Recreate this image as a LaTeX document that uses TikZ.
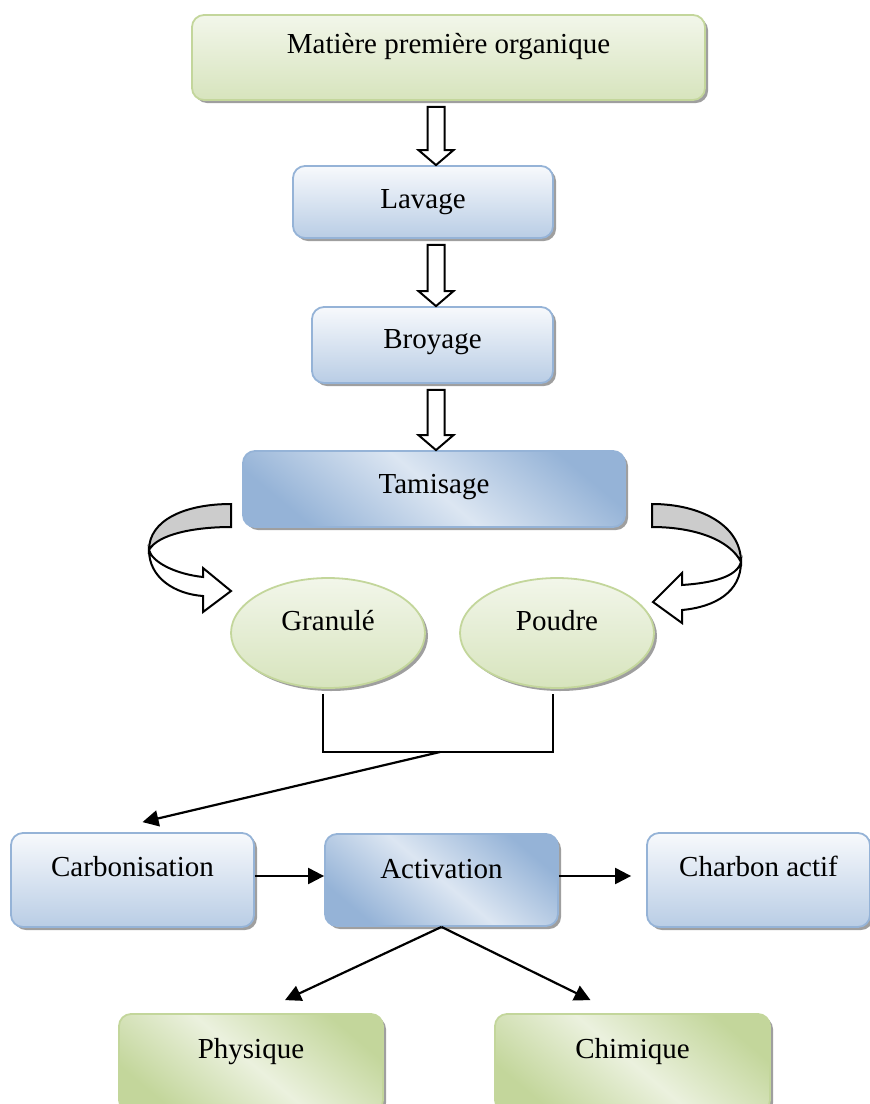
\documentclass[tikz,border=0pt]{standalone}
\usepackage{fontspec}
\setmainfont{Liberation Serif}
\usetikzlibrary{shapes, arrows.meta, calc, shadows}

\definecolor{blueline}{HTML}{95B3D7}
\definecolor{bluelight}{HTML}{F7F9FC}
\definecolor{bluemid}{HTML}{DCE6F2}
\definecolor{bluedark}{HTML}{B9CDE5}
\definecolor{greenline}{HTML}{C3D69B}
\definecolor{greenlight}{HTML}{F2F6EA}
\definecolor{greenmid}{HTML}{EBF1DE}
\definecolor{greendark}{HTML}{D7E4BD}

\tikzset{
  stage/.style={rounded corners=6pt, draw=blueline, line width=0.9pt, inner sep=0pt,
    top color=bluelight, bottom color=bluedark,
    drop shadow={shadow xshift=1.5pt, shadow yshift=-1.5pt, fill=gray!75, opacity=1}},
  stagedark/.style={stage, top color=blueline, bottom color=blueline, middle color=bluemid, shading angle=-40},
  product/.style={stage, draw=greenline, top color=greenlight, bottom color=greendark},
  productdark/.style={stage, draw=greenline, top color=greenline, bottom color=greenline, middle color=greenmid, shading angle=-40},
  grain/.style={ellipse, product, minimum width=97pt, minimum height=55pt, text height=12pt, text depth=15pt},
  hollow/.style={draw=black, fill=white, line width=1pt, line join=miter},
  flow/.style={line width=1.1pt, -{Triangle[length=8pt,width=8pt]}},
}

% hollow block arrow from the bottom of #1 to the top of #2
\newcommand{\hollowarrow}[2]{%
  \draw[hollow] let \p1=(#1.south -| axis), \p2=(#2.north -| axis) in
    (\x1-4.25pt,\y1-3pt) -- (\x1-4.25pt,\y2+7.5pt) -- (\x1-8.75pt,\y2+7.5pt) -- (\x2,\y2)
    -- (\x1+8.75pt,\y2+7.5pt) -- (\x1+4.25pt,\y2+7.5pt) -- (\x1+4.25pt,\y1-3pt) -- cycle;}

\begin{document}
\begin{tikzpicture}[x=0.5pt, y=-0.5pt, font=\fontsize{14.5}{17}\selectfont]

            \useasboundingbox (0,0) rectangle (870,1104);
            \coordinate (axis) at (436,0);

            % Preparation
            \node[product, minimum width=256.5pt, text height=19pt, text depth=23.5pt] (matiere) at (448.5,57.5) {Matière première organique};
            \node[stage, minimum width=130pt, text height=21pt, text depth=15pt] (lavage) at (423,202) {Lavage};
            \node[stage, minimum width=120.5pt, text height=20.5pt, text depth=17.5pt] (broyage) at (432.5,345) {Broyage};
            \node[stagedark, minimum width=191pt, text height=21pt, text depth=17pt] (tamisage) at (434,489) {Tamisage};

            \hollowarrow{matiere}{lavage}
            \hollowarrow{lavage}{broyage}
            \hollowarrow{broyage}{tamisage}

            % Granulometry
            \node[grain] (granule) at (328,633) {Granulé};
            \node[grain] (poudre) at (557,633) {Poudre};

            % Curved arrows
            \filldraw[hollow, fill=gray!40] (231,504) .. controls (185,504) and (149,520) .. (149,550)
              .. controls (158,534) and (195,527) .. (231,527) -- cycle;
            \draw[hollow] (149,550) .. controls (149,578) and (175,594) .. (203,596) -- (203,612) -- (231,591)
              -- (203,568) -- (203,577) .. controls (175,574) and (152,562) .. (149,550) -- cycle;
            \filldraw[hollow, fill=gray!40] (652,504) .. controls (700,504) and (741,525) .. (741,562)
              .. controls (730,540) and (695,527) .. (652,527) -- cycle;
            \draw[hollow] (741,562) .. controls (741,592) and (715,607) .. (682,610) -- (682,623) -- (653,602)
              -- (682,573) -- (682,585) .. controls (712,583) and (737,577) .. (741,562) -- cycle;

            % Thermal treatment
            \node[stage, minimum width=121.5pt, text height=21.5pt, text depth=25.5pt] (carbon) at (132.5,880) {Carbonisation};
            \node[stagedark, minimum width=116.5pt, text height=22pt, text depth=24pt] (activation) at (441.5,880) {Activation};
            \node[stage, minimum width=111.5pt, text height=21.5pt, text depth=25.5pt] (charbon) at (758.5,880) {Charbon actif};
            \node[productdark, minimum width=132pt, text height=22pt, text depth=27pt] (physique) at (251,1063) {Physique};
            \node[productdark, minimum width=137.5pt, text height=22pt, text depth=27pt] (chimique) at (632.5,1063) {Chimique};

            \coordinate (join) at (440,752);
            \draw[line width=1.1pt] ([xshift=-2.5pt,yshift=-2.5pt]granule.south) |- (join) -| ([xshift=-2pt,yshift=-2.5pt]poudre.south);
            \draw[flow] (join) -- ([xshift=5pt,yshift=5pt]carbon.north);
            \draw[flow] ([yshift=2pt]carbon.east) -- ([yshift=2pt]activation.west);
            \draw[flow] ([yshift=2pt]activation.east) -- ([xshift=-7.5pt,yshift=2pt]charbon.west);
            \draw[flow] (activation.south) -- ([xshift=17pt,yshift=6.5pt]physique.north);
            \draw[flow] (activation.south) -- ([xshift=-21pt,yshift=6.5pt]chimique.north);

        \end{tikzpicture}
\end{document}
